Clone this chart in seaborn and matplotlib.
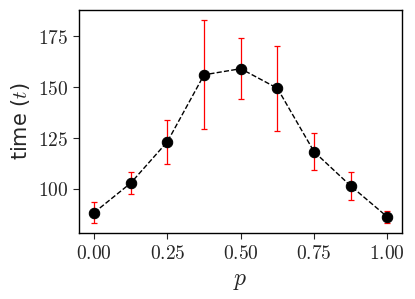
import matplotlib
matplotlib.use("Agg")
import matplotlib.pyplot as plt
import seaborn as sns
import pandas as pd
from matplotlib.ticker import FuncFormatter

p_values = [0.0, 0.125, 0.25, 0.375, 0.5, 0.625, 0.75, 0.875, 1.0]
time_mean = [88.4, 102.9, 123.2, 156.0, 159.0, 149.4, 118.3, 101.5, 86.3]
err_low = [5.1, 5.2, 10.8, 26.7, 15.0, 21.0, 9.0, 7.0, 3.0]
err_high = [5.4, 5.4, 10.6, 26.8, 15.2, 20.7, 9.0, 6.8, 3.1]
x_ticks = [0.0, 0.25, 0.5, 0.75, 1.0]
y_ticks = [100, 125, 150, 175]

sns.set_style("ticks")
plt.rcParams["mathtext.fontset"] = "cm"
plt.rcParams["font.family"] = ["DejaVu Sans"]

df = pd.DataFrame({"p": p_values, "t": time_mean})

fig, ax = plt.subplots(figsize=(4.15, 2.99), dpi=100)
ax.errorbar(p_values, time_mean, yerr=[err_low, err_high], fmt="none",
            ecolor="red", elinewidth=0.9, capsize=2.5, capthick=0.9, zorder=1)
sns.lineplot(data=df, x="p", y="t", ax=ax, color="black", linestyle="--",
             linewidth=1.0, marker="o", markersize=7.5, markeredgecolor="black",
             zorder=3)

ax.set_xticks(x_ticks)
ax.set_yticks(y_ticks)
ax.xaxis.set_major_formatter(FuncFormatter(lambda v, _: r"$%.2f$" % v))
ax.yaxis.set_major_formatter(FuncFormatter(lambda v, _: r"$%d$" % v))
ax.tick_params(labelsize=14, length=4, width=0.8)
ax.set_xlim(-0.052, 1.049)
ax.set_ylim(78.3, 188)
ax.set_xlabel(r"$p$", fontsize=17)
ax.set_ylabel(r"time ($t$)", fontsize=15)
for s in ax.spines.values():
    s.set_linewidth(1.0)
    s.set_color("black")

fig.subplots_adjust(left=0.19, right=0.968, top=0.968, bottom=0.22)
fig.savefig("out.png", dpi=100)
